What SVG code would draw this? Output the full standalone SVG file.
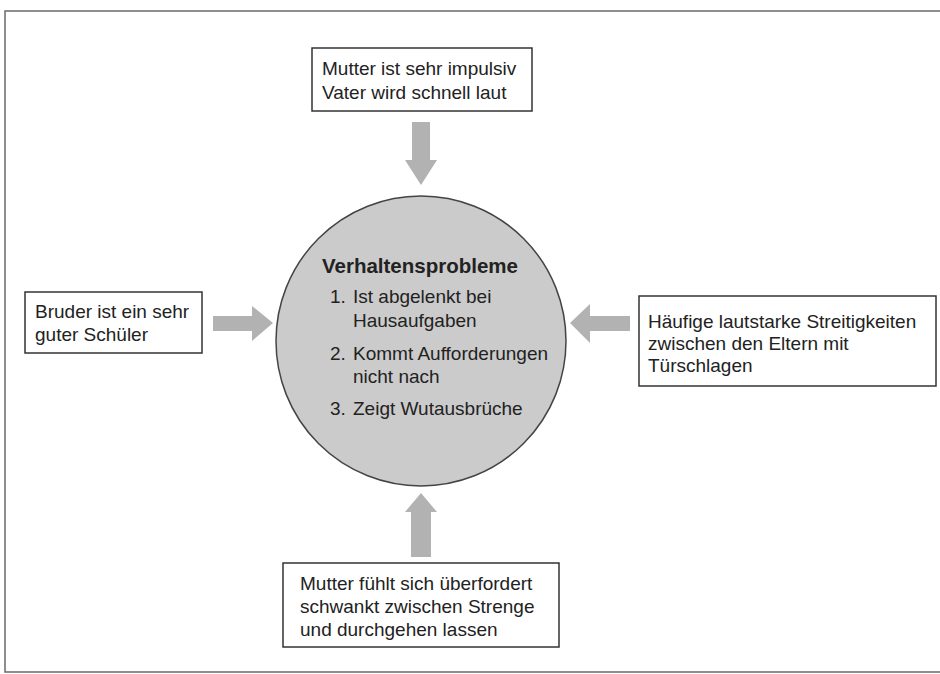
<svg xmlns="http://www.w3.org/2000/svg" width="940" height="674" viewBox="0 0 940 674">
<style>
.frame{fill:none;stroke:#6a6a6a;stroke-width:1.5}
.box{fill:#fff;stroke:#333;stroke-width:1.5}
.t{font-family:"Liberation Sans",Arial,sans-serif;font-size:19px;fill:#222}
.b{font-weight:bold;font-size:20.5px}
.arr{fill:#b2b2b2}
.circ{fill:#cbcbcb;stroke:#444;stroke-width:1.5}
</style>
<rect x="0" y="0" width="940" height="674" fill="#fff"/>
<path class="frame" d="M940 11 H5 V672 H940"/>
<g id="connectors">
<polygon class="arr" points="412,122 430,122 430,160 437,160 421,185 405,160 412,160"/>
<polygon class="arr" points="411,557 431,557 431,512 437,512 421,493 405,512 411,512"/>
<polygon class="arr" points="213,316 252,316 252,306 273,323 252,341 252,331 213,331"/>
<polygon class="arr" points="630,316 590,316 590,304 570,323 590,343 590,331 630,331"/>
</g>
<g id="center">
<circle class="circ" cx="421" cy="341" r="145"/>
<text class="t b" x="322" y="273">Verhaltensprobleme</text>
<text class="t" x="330" y="303">1.</text>
<text class="t" x="353" y="303">Ist abgelenkt bei</text>
<text class="t" x="353" y="327">Hausaufgaben</text>
<text class="t" x="330" y="360">2.</text>
<text class="t" x="353" y="360">Kommt Aufforderungen</text>
<text class="t" x="353" y="383">nicht nach</text>
<text class="t" x="330" y="415">3.</text>
<text class="t" x="353" y="415">Zeigt Wutausbrüche</text>
</g>
<g id="top">
<rect class="box" x="312" y="48" width="220" height="63"/>
<text class="t" x="322" y="75">Mutter ist sehr impulsiv</text>
<text class="t" x="322" y="99">Vater wird schnell laut</text>
</g>
<g id="left">
<rect class="box" x="25" y="292" width="177" height="61"/>
<text class="t" x="35" y="318">Bruder ist ein sehr</text>
<text class="t" x="35" y="341">guter Schüler</text>
</g>
<g id="right">
<rect class="box" x="639" y="296" width="297" height="90"/>
<text class="t" x="648" y="328">Häufige lautstarke Streitigkeiten</text>
<text class="t" x="648" y="350">zwischen den Eltern mit</text>
<text class="t" x="648" y="372">Türschlagen</text>
</g>
<g id="bottom">
<rect class="box" x="283" y="563" width="276" height="84"/>
<text class="t" x="300" y="590">Mutter fühlt sich überfordert</text>
<text class="t" x="300" y="613">schwankt zwischen Strenge</text>
<text class="t" x="300" y="636">und durchgehen lassen</text>
</g>
</svg>
